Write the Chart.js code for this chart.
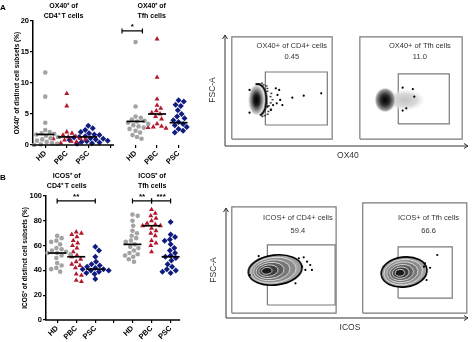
<!DOCTYPE html>
<html>
<head>
<meta charset="utf-8">
<script src="https://cdn.jsdelivr.net/npm/chart.js@4.4.1/dist/chart.umd.min.js"></script>
<style>
  body { margin: 0; background: #fff; }
  #wrap { position: relative; width: 474px; height: 342px; }
  canvas { position: absolute; }
</style>
</head>
<body>
<div id="wrap">
  <canvas id="ox40Dots" width="200" height="170" style="left:0;top:0"></canvas>
  <canvas id="icosDots" width="200" height="172" style="left:0;top:170px"></canvas>
  <canvas id="ox40Flow" width="274" height="170" style="left:200px;top:0"></canvas>
  <canvas id="icosFlow" width="274" height="172" style="left:200px;top:170px"></canvas>
</div>
<script>
// ---- data ----
const groupLabels = ['HD', 'PBC', 'PSC'];

// A: OX40+ of CD4+ T cells / Tfh cells (%)
const ox40Cd4Hd = [11.7, 7.8, 3.6, 2.4, 2.1, 1.9, 1.8, 1.7, 1.5, 1.3, 1.1, 0.9, 0.7, 0.5, 0.3, 0.2, 0.1, 0.0];
const ox40Cd4Pbc = [8.3, 6.3, 2.1, 1.9, 1.6, 1.4, 1.3, 1.2, 1.1, 1.0, 0.9, 0.8, 0.6, 0.5, 0.3];
const ox40Cd4Psc = [3.1, 2.7, 2.4, 2.1, 1.9, 1.7, 1.6, 1.4, 1.3, 1.2, 1.1, 1.0, 0.9, 0.8, 0.7, 0.6, 0.5, 0.4, 0.3, 0.2];
const ox40TfhHd = [16.6, 6.2, 4.6, 4.4, 4.1, 3.9, 3.8, 3.6, 3.4, 3.2, 3.0, 2.8, 2.6, 2.3, 2.0, 1.6, 1.3, 1.0];
const ox40TfhPbc = [17.1, 10.9, 7.4, 6.4, 5.9, 5.5, 5.2, 5.0, 4.6, 4.2, 3.4, 3.0, 2.9, 2.8, 2.7];
const ox40TfhPsc = [7.2, 7.0, 6.5, 6.3, 5.6, 5.0, 4.6, 4.3, 4.0, 3.7, 3.4, 3.2, 2.9, 2.6, 2.3, 2.0];
const ox40Medians = [1.7, 1.3, 1.3, 3.8, 5.0, 3.6];
const ox40Ticks = [0, 5, 10, 15, 20];

// B: ICOS+ of CD4+ T cells / Tfh cells (%)
const icosCd4Hd = [68, 66, 64, 63, 61, 58, 57, 56, 55, 54, 54, 53, 52, 50, 46, 44, 42, 41, 39];
const icosCd4Pbc = [71, 70, 69, 67, 64, 62, 60, 58, 55, 52, 51, 49, 47, 45, 44, 42, 37, 36, 32, 31];
const icosCd4Psc = [59, 56, 51, 47, 45, 44, 43, 42, 41, 41, 40, 40, 39, 38, 37, 33];
const icosTfhHd = [85, 84, 80, 76, 72, 70, 68, 66, 64, 63, 61, 59, 58, 56, 54, 53, 52, 51, 49, 47];
const icosTfhPbc = [89, 86, 84, 82, 80, 78, 77, 76, 76, 74, 72, 70, 68, 64, 62, 60, 55];
const icosTfhPsc = [79, 69, 67, 65, 64, 61, 58, 56, 54, 52, 51, 50, 48, 45, 43, 41, 40, 39, 38];
const icosMedians = [54, 51, 41, 61, 76, 51];
const icosTicks = [0, 20, 40, 60, 80, 100];

// representative flow plots (axis units 0-1000)
const ox40FlowLabels = ['OX40+ of CD4+ cells', 'OX40+ of Tfh cells'];
const ox40FlowValues = ['0.45', '11.0'];
const ox40Gates = [[28, 60, 441, 940], [166, 181, 421, 638], [555, 60, 976, 940], [713, 190, 923, 621]];
const ox40BlobX = [138, 725];
const ox40BlobY = [397, 397];
const ox40EventsX = [101, 101, 175, 189, 198, 209, 213, 216, 223, 227, 236, 277, 324, 396, 731, 773, 779, 746, 731];
const ox40EventsY = [483, 287, 339, 310, 353, 497, 368, 440, 483, 397, 353, 417, 434, 454, 503, 491, 425, 325, 305];

const icosFlowLabels = ['ICOS+ of CD4+ cells', 'ICOS+ of Tfh cells'];
const icosFlowValues = ['59.4', '66.6'];
const icosGates = [[24, 42, 455, 941], [171, 110, 451, 619], [565, 42, 995, 975], [711, 169, 935, 602]];
const icosBlobX = [203, 736];
const icosBlobY = [407, 390];
const icosEventsX = [321, 335, 348, 328, 355, 287, 314, 301, 135, 98, 873, 843, 822, 829, 818];
const icosEventsY = [514, 477, 449, 407, 407, 294, 435, 506, 525, 364, 534, 426, 463, 322, 435];

// ---- drawing ----
Chart.defaults.font.family = '"Liberation Sans", Arial, sans-serif';
Chart.defaults.animation = false;
Chart.defaults.plugins.legend.display = false;
Chart.defaults.plugins.tooltip.enabled = false;

const groupStyle = [
  { shape: 'circle', r: 2.3, color: '#a3a3a3' },
  { shape: 'triangle', r: 2.9, color: '#b3182d' },
  { shape: 'rectRot', r: 3.0, color: '#101c80' }
];

// simple beeswarm: push points sideways until they stop overlapping
function swarm(values, center, pxPerX, pxPerY, gap) {
  const placed = [];
  return values.map(v => {
    let off = 0;
    for (let k = 0; k < 60; k++) {
      const o = (k % 2 ? 1 : -1) * Math.ceil(k / 2) * 0.8;
      const hit = placed.some(p => Math.hypot(p.o - o, (p.v - v) * pxPerY) < gap);
      if (!hit) { off = o; break; }
    }
    placed.push({ o: off, v: v });
    return { x: center + off / pxPerX, y: v };
  });
}

function dotChart(id, p) {
  const pos = p.positions;
  const tickPos = [pos[0], pos[1], pos[2], p.breakAt, pos[3], pos[4], pos[5]];
  const tickText = [...groupLabels, '', ...groupLabels];
  const datasets = [{
    data: p.medians.map((m, i) => ({ x: pos[i], y: m })),
    pointStyle: 'line', pointRadius: 9, borderColor: '#000', borderWidth: 1.7, clip: false
  }];
  p.series.forEach((vals, i) => {
    const st = groupStyle[i % 3];
    datasets.push({
      data: swarm(vals, pos[i], p.pxX, p.pxY, 5),
      pointStyle: st.shape, pointRadius: st.r,
      backgroundColor: st.color, borderColor: st.color, borderWidth: 0, clip: false
    });
  });

  const deco = {
    id: 'deco',
    afterDraw(chart) {
      const { ctx, chartArea: a, scales: { x, y } } = chart;
      ctx.save();
      ctx.strokeStyle = '#000';
      ctx.fillStyle = '#000';
      ctx.lineWidth = 1.5;
      ctx.beginPath();
      ctx.moveTo(a.left - 0.75, a.bottom);
      ctx.lineTo(x.getPixelForValue(p.axisEnd), a.bottom);
      ctx.stroke();

      // significance brackets
      ctx.lineWidth = 1.2;
      ctx.textAlign = 'center';
      ctx.textBaseline = 'alphabetic';
      ctx.font = 'bold 8px "Liberation Sans"';
      p.brackets.forEach(b => {
        const x1 = x.getPixelForValue(b.from), x2 = x.getPixelForValue(b.to), yy = y.getPixelForValue(b.y);
        ctx.beginPath();
        ctx.moveTo(x1, yy); ctx.lineTo(x2, yy);
        ctx.moveTo(x1, yy - 2.5); ctx.lineTo(x1, yy + 2.5);
        ctx.moveTo(x2, yy - 2.5); ctx.lineTo(x2, yy + 2.5);
        ctx.stroke();
        ctx.fillText(b.label, (x1 + x2) / 2, yy - 1.5);
      });

      // group titles
      ctx.font = 'bold 7px "Liberation Sans"';
      p.titles.forEach(t => {
        const tx = x.getPixelForValue(t.at);
        ctx.fillText(t.lines[0], tx, p.titleY);
        ctx.fillText(t.lines[1], tx, p.titleY + 10);
      });

      // panel letter
      ctx.textAlign = 'left';
      ctx.font = 'bold 8px "Liberation Sans"';
      ctx.fillText(p.letter, 0, p.titleY + 2);

      // y axis title
      ctx.translate(p.yTitleX, (a.top + a.bottom) / 2);
      ctx.rotate(-Math.PI / 2);
      ctx.textAlign = 'center';
      ctx.textBaseline = 'middle';
      ctx.font = 'bold 6.5px "Liberation Sans"';
      ctx.fillText(p.yTitle, 0, 0);
      ctx.restore();
    }
  };

  return new Chart(document.getElementById(id), {
    type: 'scatter',
    data: { datasets },
    options: {
      responsive: false,
      layout: { padding: { top: p.padTop, right: 0, left: 0, bottom: 0 } },
      scales: {
        x: {
          type: 'linear', min: p.xMin, max: p.xMax,
          afterBuildTicks: s => { s.ticks = tickPos.map(v => ({ value: v })); },
          afterFit: s => { s.height = p.bottomH; },
          ticks: {
            autoSkip: false, minRotation: 45, maxRotation: 45, padding: 1, color: '#000',
            font: { size: 7.5, weight: 'bold' },
            callback: (v, i) => tickText[i]
          },
          grid: { drawOnChartArea: false, drawTicks: true, tickLength: 3, color: '#000', lineWidth: 1.2 },
          border: { display: false }
        },
        y: {
          min: 0, max: p.yTicks[p.yTicks.length - 1],
          afterBuildTicks: s => { s.ticks = p.yTicks.map(v => ({ value: v })); },
          afterFit: s => { s.width = p.leftW; },
          ticks: { color: '#000', padding: 1, font: { size: 7.5, weight: 'bold' } },
          grid: { drawOnChartArea: false, tickLength: 3, color: '#000', lineWidth: 1.2 },
          border: { color: '#000', width: 1.5 }
        }
      }
    },
    plugins: [deco]
  });
}

dotChart('ox40Dots', {
  series: [ox40Cd4Hd, ox40Cd4Pbc, ox40Cd4Psc, ox40TfhHd, ox40TfhPbc, ox40TfhPsc],
  medians: ox40Medians, yTicks: ox40Ticks,
  positions: [1, 2, 3, 5.2, 6.2, 7.2], breakAt: 4.05, axisEnd: 4.2,
  xMin: 0.43, xMax: 7.7, pxX: 23, pxY: 6.15,
  padTop: 21, bottomH: 25, leftW: 33,
  titleY: 8, yTitleX: 17, letter: 'A',
  titles: [{ at: 1.85, lines: ['OX40\u207A of', 'CD4\u207A T cells'] }, { at: 5.95, lines: ['OX40\u207A of', 'Tfh cells'] }],
  yTitle: 'OX40\u207A of distinct cell subsets (%)',
  brackets: [{ from: 4.57, to: 5.52, y: 18.4, label: '*' }]
});

dotChart('icosDots', {
  series: [icosCd4Hd, icosCd4Pbc, icosCd4Psc, icosTfhHd, icosTfhPbc, icosTfhPsc],
  medians: icosMedians, yTicks: icosTicks,
  positions: [1, 2, 3, 4.95, 5.95, 6.95], breakAt: 3.95, axisEnd: 7.45,
  xMin: 0.415, xMax: 7.93, pxX: 20.5, pxY: 1.24,
  padTop: 26, bottomH: 22, leftW: 46,
  titleY: 8, yTitleX: 25, letter: 'B',
  titles: [{ at: 1.5, lines: ['ICOS\u207A of', 'CD4\u207A T cells'] }, { at: 5.98, lines: ['ICOS\u207A of', 'Tfh cells'] }],
  yTitle: 'ICOS\u207A of distinct cell subsets (%)',
  brackets: [
    { from: 1, to: 3, y: 96, label: '**' },
    { from: 4.95, to: 5.95, y: 96, label: '**' },
    { from: 5.95, to: 6.95, y: 96, label: '***' }
  ]
});

// ---- flow cytometry sprites ----
function sprite(w, h, draw) {
  const c = document.createElement('canvas');
  c.width = w; c.height = h;
  draw(c.getContext('2d'));
  return c;
}

function ellipseGradient(g, cx, cy, rx, ry, stops) {
  g.save();
  g.translate(cx, cy);
  g.scale(rx / ry, 1);
  const gr = g.createRadialGradient(0, 0, 0, 0, 0, ry);
  stops.forEach(s => gr.addColorStop(s[0], s[1]));
  g.fillStyle = gr;
  g.beginPath();
  g.arc(0, 0, ry, 0, Math.PI * 2);
  g.fill();
  g.restore();
}

const ox40Sprites = [
  sprite(36, 42, g => {
    ellipseGradient(g, 16, 21, 8, 15, [[0, '#000'], [0.35, '#1a1a1a'], [0.7, '#8c8c8c'], [1, '#e6e6e6']]);
    g.strokeStyle = '#000';
    g.lineWidth = 2;
    g.beginPath();
    g.ellipse(17, 21, 9, 16, 0, -1.8, 1.3);
    g.stroke();
    g.fillStyle = '#000';
    for (let a = -1.5; a <= 1.3; a += 0.18) {
      const r = 2 + (Math.round(a * 10) % 3 + 3) % 3 * 1.6;
      g.fillRect(17 + Math.cos(a) * (9 + r), 21 + Math.sin(a) * (16 + r * 0.4), 1.5, 1.5);
    }
  }),
  sprite(64, 36, g => {
    ellipseGradient(g, 36, 18, 20, 11, [[0, '#c4c4c4'], [0.6, '#dadada'], [1, 'rgba(240,240,240,0)']]);
    ellipseGradient(g, 16, 18, 11, 13, [[0, '#000'], [0.4, '#2a2a2a'], [0.8, '#9a9a9a'], [1, 'rgba(255,255,255,0)']]);
  })
];

function contourSprite(w, h, rx, ry, shift) {
  return sprite(w, h, g => {
    const cx = w / 2, cy = h / 2;
    const greys = ['#a0a0a0', '#8c8c8c', '#767676', '#5c5c5c', '#3c3c3c', '#1a1a1a'];
    greys.forEach((col, k) => {
      const t = k / greys.length;
      g.beginPath();
      g.ellipse(cx - shift * t, cy + t, rx * (1 - t) + 1, ry * (1 - t) + 1, -0.12, 0, Math.PI * 2);
      g.fillStyle = col;
      g.fill();
      g.strokeStyle = k === 0 ? '#000' : '#f2f2f2';
      g.lineWidth = k === 0 ? 1.6 : 0.8;
      g.stroke();
    });
  });
}

const icosSprites = [contourSprite(60, 36, 26, 14, 10), contourSprite(52, 36, 22, 14, 5)];

function flowChart(id, f) {
  const rect = r => [{ x: r[0], y: r[1] }, { x: r[2], y: r[1] }, { x: r[2], y: r[3] }, { x: r[0], y: r[3] }, { x: r[0], y: r[1] }];
  const datasets = [
    { data: f.eventsX.map((v, i) => ({ x: v, y: f.eventsY[i] })), pointRadius: 1.1, backgroundColor: '#000', borderWidth: 0 },
    ...f.blobX.map((v, i) => ({ data: [{ x: v, y: f.blobY[i] }], pointStyle: f.sprites[i], pointRadius: 5 })),
    ...f.gates.map(r => ({ data: rect(r), showLine: true, pointRadius: 0, borderColor: '#7a7a7a', borderWidth: 1.2 }))
  ];

  const deco = {
    id: 'flowDeco',
    afterDraw(chart) {
      const { ctx, scales: { x, y } } = chart;
      const x0 = x.getPixelForValue(0), y0 = y.getPixelForValue(0);
      const xEnd = x.getPixelForValue(1000), yEnd = y.getPixelForValue(f.axisTop);
      ctx.save();
      ctx.strokeStyle = '#333';
      ctx.fillStyle = '#333';
      ctx.lineWidth = 1;
      ctx.beginPath();
      ctx.moveTo(x0, yEnd); ctx.lineTo(x0, y0); ctx.lineTo(xEnd, y0);
      ctx.moveTo(x0 - 2.5, yEnd + 4); ctx.lineTo(x0, yEnd); ctx.lineTo(x0 + 2.5, yEnd + 4);
      ctx.moveTo(xEnd - 4, y0 - 2.5); ctx.lineTo(xEnd, y0); ctx.lineTo(xEnd - 4, y0 + 2.5);
      ctx.stroke();

      ctx.textAlign = 'center';
      ctx.textBaseline = 'middle';
      ctx.font = '7.5px "Liberation Sans"';
      f.labels.forEach((t, i) => {
        ctx.fillText(t, x.getPixelForValue(f.labelX[i]), y.getPixelForValue(f.labelY));
        ctx.fillText(f.values[i], x.getPixelForValue(f.labelX[i]), y.getPixelForValue(f.valueY));
      });

      ctx.font = '8.5px "Liberation Sans"';
      ctx.fillText(f.xTitle, x.getPixelForValue(f.xTitleX), y0 + 10);
      ctx.translate(x0 - 12, y.getPixelForValue(f.yTitleY));
      ctx.rotate(-Math.PI / 2);
      ctx.fillText('FSC-A', 0, 0);
      ctx.restore();
    }
  };

  return new Chart(document.getElementById(id), {
    type: 'scatter',
    data: { datasets },
    options: {
      responsive: false,
      layout: { padding: f.padding },
      scales: {
        x: { type: 'linear', display: false, min: 0, max: 1000 },
        y: { type: 'linear', display: false, min: 0, max: 1000 }
      }
    },
    plugins: [deco]
  });
}

flowChart('ox40Flow', {
  padding: { left: 25, right: 2, top: 30, bottom: 24 },
  gates: ox40Gates, blobX: ox40BlobX, blobY: ox40BlobY, sprites: ox40Sprites,
  eventsX: ox40EventsX, eventsY: ox40EventsY,
  labels: ox40FlowLabels, values: ox40FlowValues,
  labelX: [275, 802], labelY: 862, valueY: 767,
  axisTop: 957, xTitle: 'OX40', xTitleX: 506, yTitleY: 483
});

flowChart('icosFlow', {
  padding: { left: 26, right: 2, top: 30, bottom: 24 },
  gates: icosGates, blobX: icosBlobX, blobY: icosBlobY, sprites: icosSprites,
  eventsX: icosEventsX, eventsY: icosEventsY,
  labels: icosFlowLabels, values: icosFlowValues,
  labelX: [297, 837], labelY: 847, valueY: 737,
  axisTop: 932, xTitle: 'ICOS', xTitleX: 512, yTitleY: 407
});
</script>
</body>
</html>
